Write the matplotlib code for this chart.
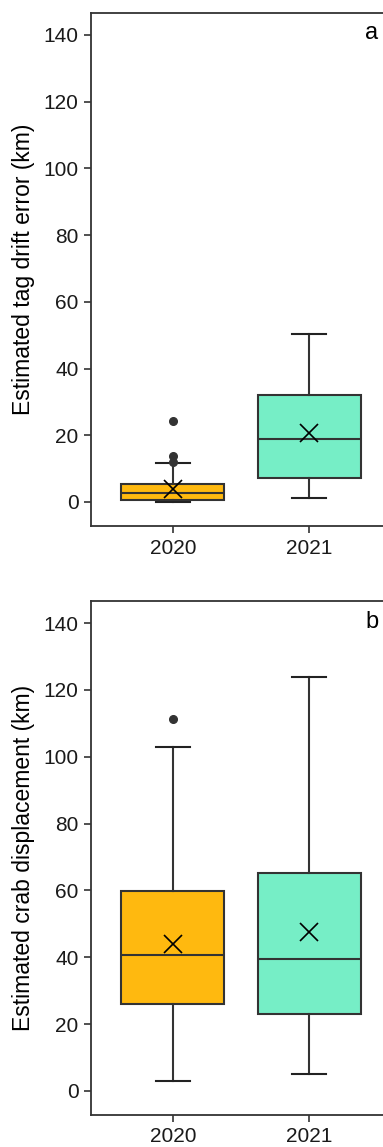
"""
Boxplots of tag drift error and crab displacement by year
"""

import matplotlib
matplotlib.use('Agg')
import matplotlib.pyplot as plt
import numpy as np

#---------------------------------------------------------------------------------------------------
# Input data
#---------------------------------------------------------------------------------------------------

years = ['2020', '2021']
box_colors = ['#FFB90F', '#76EEC6']

# panel a: estimated tag drift error (km)
drift_whislo = [0.0, 1.1]
drift_q1 = [0.6, 7.1]
drift_med = [2.6, 18.8]
drift_q3 = [5.3, 32.1]
drift_whishi = [11.7, 50.5]
drift_mean = [3.8, 20.8]
drift_fliers = [[12.0, 13.9, 24.2], []]

# panel b: estimated crab displacement (km)
disp_whislo = [3.0, 5.0]
disp_q1 = [26.0, 23.0]
disp_med = [40.6, 39.5]
disp_q3 = [59.7, 65.3]
disp_whishi = [103.0, 124.0]
disp_mean = [44.0, 47.5]
disp_fliers = [[111.4], []]

ylabels = ['Estimated tag drift error (km)', 'Estimated crab displacement (km)']
panel_tags = ['a', 'b']

#---------------------------------------------------------------------------------------------------
# Plot
#---------------------------------------------------------------------------------------------------

plt.rcParams['font.family'] = ['Liberation Sans', 'DejaVu Sans']
line_c = '#333333'

fig = plt.figure(figsize=(3.83, 11.47), dpi=100)
axes = [fig.add_axes([0.2376, 0.5414, 0.7624, 0.4473]),
        fig.add_axes([0.2376, 0.0279, 0.7624, 0.4481])]

panels = [(drift_whislo, drift_q1, drift_med, drift_q3, drift_whishi, drift_mean, drift_fliers),
          (disp_whislo, disp_q1, disp_med, disp_q3, disp_whishi, disp_mean, disp_fliers)]

for i, ax in enumerate(axes):
    lo, q1, med, q3, hi, mn, fl = panels[i]
    stats = []
    for j in range(len(years)):
        stats.append({'whislo': lo[j], 'q1': q1[j], 'med': med[j], 'q3': q3[j],
                      'whishi': hi[j], 'fliers': fl[j], 'label': years[j]})
    bp = ax.bxp(stats, positions=[1, 2], widths=0.755, patch_artist=True,
                showfliers=True,
                boxprops=dict(edgecolor=line_c, linewidth=1.5),
                medianprops=dict(color=line_c, linewidth=1.5),
                whiskerprops=dict(color=line_c, linewidth=1.5),
                capprops=dict(color='#222222', linewidth=1.5),
                capwidths=0.25,
                flierprops=dict(marker='o', markerfacecolor=line_c, markeredgecolor=line_c,
                                markersize=5.5))
    for patch, c in zip(bp['boxes'], box_colors):
        patch.set_facecolor(c)
    ax.plot([1, 2], mn, linestyle='none', marker='x', color='black',
            markersize=13, markeredgewidth=1.2, zorder=5)

    ax.set_xlim(0.4, 2.54)
    ax.set_ylim(-7.2, 146.6)
    ax.set_yticks(np.arange(0, 141, 20))
    ax.set_ylabel(ylabels[i], fontsize=16.5, labelpad=6)
    ax.tick_params(axis='both', labelsize=15, length=5, width=1.2, color=line_c,
                   labelcolor='#1a1a1a', pad=4)
    ax.spines['right'].set_visible(False)
    for s in ['left', 'top', 'bottom']:
        ax.spines[s].set_color(line_c)
        ax.spines[s].set_linewidth(1.3)
    ax.text(0.962, 0.960, panel_tags[i], transform=ax.transAxes, fontsize=17,
            ha='center', va='center')

plt.savefig('out.png', dpi=100)
